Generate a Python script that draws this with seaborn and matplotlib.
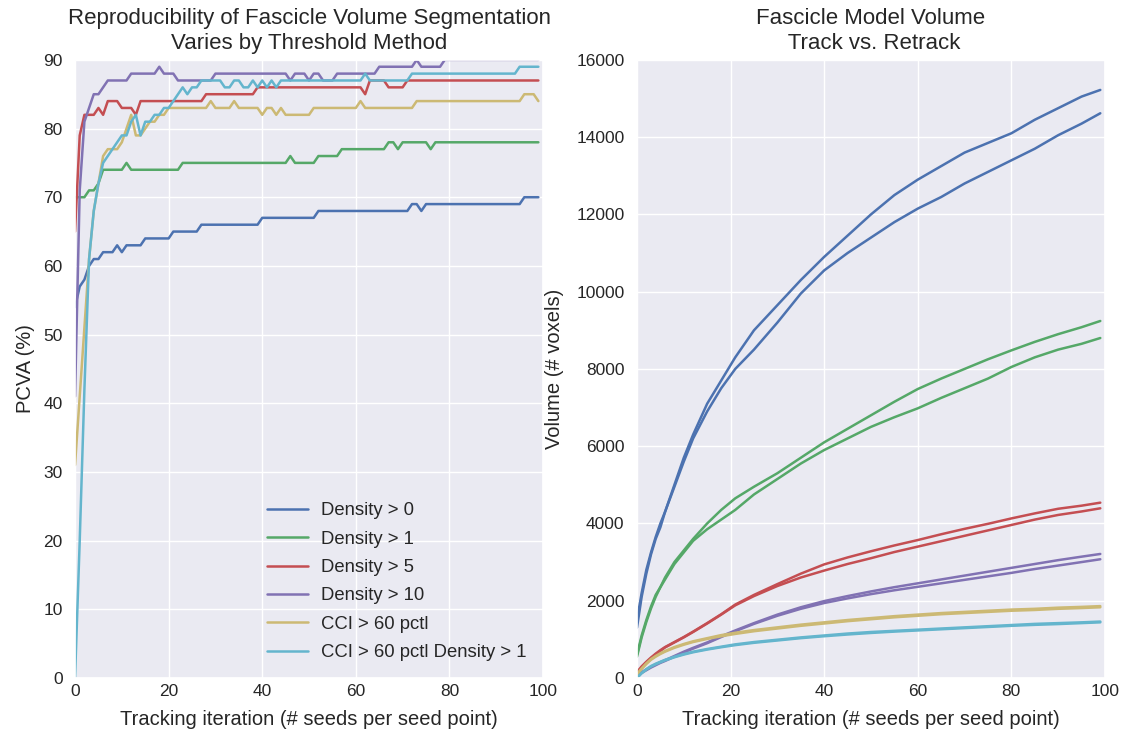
import numpy as np
import pandas as pd
import matplotlib
matplotlib.use("Agg")
import matplotlib.pyplot as plt
import seaborn as sns

# ---------------- Left panel data: PCVA (%) per tracking iteration ----------------
iterations = list(range(100))
methods = ["Density > 0", "Density > 1", "Density > 5", "Density > 10",
           "CCI > 60 pctl", "CCI > 60 pctl Density > 1"]

pcva_density0 = [54,57,58,60,61,61,62,62,62,63, 62,63,63,63,63,64,64,64,64,64,
                 64,65,65,65,65,65,65,66,66,66, 66,66,66,66,66,66,66,66,66,66,
                 67,67,67,67,67,67,67,67,67,67, 67,67,68,68,68,68,68,68,68,68,
                 68,68,68,68,68,68,68,68,68,68, 68,68,69,69,68,69,69,69,69,69,
                 69,69,69,69,69,69,69,69,69,69, 69,69,69,69,69,69,70,70,70,70]
pcva_density1 = [70,70,70,71,71,72,74,74,74,74, 74,75,74,74,74,74,74,74,74,74,
                 74,74,74,75,75,75,75,75,75,75, 75,75,75,75,75,75,75,75,75,75,
                 75,75,75,75,75,75,76,75,75,75, 75,75,76,76,76,76,76,77,77,77,
                 77,77,77,77,77,77,77,78,78,77, 78,78,78,78,78,78,77,78,78,78,
                 78,78,78,78,78,78,78,78,78,78, 78,78,78,78,78,78,78,78,78,78]
pcva_density5 = [65,79,82,82,82,83,82,84,84,84, 83,83,83,82,84,84,84,84,84,84,
                 84,84,84,84,84,84,84,84,85,85, 85,85,85,85,85,85,85,85,85,86,
                 86,86,86,86,86,86,86,86,86,86, 86,86,86,86,86,86,86,86,86,86,
                 86,86,85,87,87,87,87,86,86,86, 86,87,87,87,87,87,87,87,87,87,
                 87,87,87,87,87,87,87,87,87,87, 87,87,87,87,87,87,87,87,87,87]
pcva_density10 = [41,71,81,83,85,85,86,87,87,87, 87,87,88,88,88,88,88,88,89,88,
                  88,88,87,87,87,87,87,87,87,87, 88,88,88,88,88,88,88,88,88,88,
                  88,88,88,88,88,88,87,88,88,88, 87,88,88,87,87,87,88,88,88,88,
                  88,88,88,88,88,89,89,89,89,89, 89,89,89,90,89,89,89,89,89,90,
                  90,90,90,90,90,90,90,90,90,90, 90,90,90,90,90,90,90,90,90,90]
pcva_cci60 = [31,41,51,61,68,72,76,77,77,77, 78,80,82,79,79,80,81,81,82,82,
              83,83,83,83,83,83,83,83,83,84, 83,83,83,83,84,83,83,83,83,83,
              82,83,83,82,83,82,82,82,82,82, 82,83,83,83,83,83,83,83,83,83,
              83,84,83,83,83,83,83,83,83,83, 83,83,83,84,84,84,84,84,84,84,
              84,84,84,84,84,84,84,84,84,84, 84,84,84,84,84,84,85,85,85,84]
pcva_cci60_d1 = [0,20,42,61,68,72,75,76,77,78, 79,79,81,82,79,81,81,82,82,83,
                 83,84,85,86,85,86,86,87,87,87, 87,87,86,86,87,87,86,86,87,86,
                 87,86,87,86,87,87,87,87,87,87, 87,87,87,87,87,87,87,87,87,87,
                 87,87,88,87,87,87,87,87,87,87, 87,87,88,88,88,88,88,88,88,88,
                 88,88,88,88,88,88,88,88,88,88, 88,88,88,88,88,89,89,89,89,89]

# ---------------- Right panel data: volume (# voxels), track vs retrack ----------------
vol_iters = [0,1,2,3,4,5,6,8,10,12,15,18,21,25,30,35,40,45,50,55,60,65,70,75,80,85,90,95,99]

vol_d0_track   = [1300,2100,2700,3200,3600,3900,4300,5000,5700,6300,7100,7700,8300,9000,9650,10300,
                  10900,11450,12000,12500,12900,13250,13600,13850,14100,14450,14750,15050,15222]
vol_d0_retrack = [1500,2200,2800,3250,3650,4000,4300,4950,5600,6200,6900,7500,8000,8500,9200,9950,
                  10550,11000,11400,11800,12150,12450,12800,13100,13400,13700,14050,14350,14618]
vol_d1_track   = [600,1100,1500,1850,2150,2350,2600,3000,3300,3600,4000,4350,4650,4950,5300,5700,
                  6100,6450,6800,7150,7480,7750,8000,8250,8480,8700,8900,9080,9241]
vol_d1_retrack = [550,1050,1450,1800,2100,2350,2550,2950,3250,3550,3850,4100,4350,4750,5150,5550,
                  5900,6200,6500,6750,6980,7250,7500,7750,8050,8300,8500,8650,8800]
vol_d5_track   = [150,300,420,530,630,720,800,930,1060,1200,1420,1650,1900,2150,2430,2700,
                  2940,3120,3280,3430,3570,3720,3860,3990,4130,4260,4380,4460,4538]
vol_d5_retrack = [120,280,400,510,610,700,790,920,1050,1190,1410,1640,1880,2120,2380,2600,
                  2780,2950,3100,3260,3400,3540,3680,3820,3960,4100,4220,4310,4392]
vol_d10_track   = [80,150,220,290,350,410,460,570,680,780,920,1080,1230,1420,1640,1830,
                   1990,2120,2240,2350,2450,2550,2650,2750,2850,2950,3050,3140,3210]
vol_d10_retrack = [60,130,200,270,330,390,440,550,660,760,900,1060,1210,1400,1610,1790,
                   1940,2060,2170,2270,2360,2450,2540,2630,2720,2820,2910,3000,3073]
vol_cci_track   = [100,250,380,490,570,640,700,800,880,950,1030,1110,1170,1240,1310,1380,
                   1440,1500,1550,1600,1640,1680,1710,1740,1770,1790,1820,1840,1860]
vol_cci_retrack = [80,230,360,470,550,620,680,780,860,930,1010,1080,1140,1210,1280,1350,
                   1410,1470,1520,1570,1610,1650,1680,1710,1740,1760,1790,1810,1830]
vol_ccid1_track   = [0,130,230,310,370,420,470,550,620,680,750,810,870,930,990,1050,
                     1100,1150,1190,1220,1250,1280,1310,1340,1370,1400,1420,1440,1460]
vol_ccid1_retrack = [0,120,215,295,355,405,455,535,605,665,735,795,850,910,970,1030,
                     1080,1125,1165,1200,1230,1260,1290,1320,1350,1375,1395,1420,1440]

# ---------------- Build long-form tables ----------------
pcva_series = [pcva_density0, pcva_density1, pcva_density5, pcva_density10, pcva_cci60, pcva_cci60_d1]
left_df = pd.concat([pd.DataFrame({"iteration": iterations, "pcva": s, "method": m})
                     for m, s in zip(methods, pcva_series)], ignore_index=True)

vol_pairs = [(vol_d0_track, vol_d0_retrack), (vol_d1_track, vol_d1_retrack),
             (vol_d5_track, vol_d5_retrack), (vol_d10_track, vol_d10_retrack),
             (vol_cci_track, vol_cci_retrack), (vol_ccid1_track, vol_ccid1_retrack)]
rows = []
for m, (tr, rt) in zip(methods, vol_pairs):
    rows.append(pd.DataFrame({"iteration": vol_iters, "volume": tr, "method": m, "run": m + " track"}))
    rows.append(pd.DataFrame({"iteration": vol_iters, "volume": rt, "method": m, "run": m + " retrack"}))
right_df = pd.concat(rows, ignore_index=True)

# ---------------- Plot ----------------
sns.set_theme(style="darkgrid")
plt.rcParams["font.family"] = ["Liberation Sans", "DejaVu Sans"]
palette = sns.color_palette("deep6")
text_color = "#262626"

fig = plt.figure(figsize=(11.25, 7.42), dpi=100)
ax1 = fig.add_axes([0.0667, 0.0863, 0.416, 0.833])
ax2 = fig.add_axes([0.5662, 0.0863, 0.416, 0.833])

sns.lineplot(data=left_df, x="iteration", y="pcva", hue="method", hue_order=methods,
             palette=palette, linewidth=1.8, ax=ax1)
ax1.set_xlim(0, 100)
ax1.set_ylim(0, 90)
ax1.set_xticks([0, 20, 40, 60, 80, 100])
ax1.set_yticks(range(0, 91, 10))
ax1.set_xlabel("Tracking iteration (# seeds per seed point)", fontsize=14.5, color=text_color, labelpad=8)
ax1.set_ylabel("PCVA (%)", fontsize=14.5, color=text_color, labelpad=6)
ax1.set_title("Reproducibility of Fascicle Volume Segmentation\nVaries by Threshold Method",
              fontsize=16, color=text_color, linespacing=1.25, pad=8)
leg = ax1.legend(loc="lower right", frameon=False, fontsize=13.3, handlelength=2.2,
                 handletextpad=0.7, borderaxespad=0.5, labelspacing=0.62)
for line in leg.get_lines():
    line.set_linewidth(1.8)

sns.lineplot(data=right_df, x="iteration", y="volume", hue="method", hue_order=methods,
             units="run", estimator=None, palette=palette, linewidth=1.8, legend=False, ax=ax2)
ax2.set_xlim(0, 100)
ax2.set_ylim(0, 16000)
ax2.set_xticks([0, 20, 40, 60, 80, 100])
ax2.set_yticks(range(0, 16001, 2000))
ax2.set_xlabel("Tracking iteration (# seeds per seed point)", fontsize=14.5, color=text_color, labelpad=8)
ax2.set_ylabel("Volume (# voxels)", fontsize=14.5, color=text_color, labelpad=9)
ax2.set_title("Fascicle Model Volume\n Track vs. Retrack", fontsize=16, color=text_color,
              linespacing=1.25, pad=8)

for ax in (ax1, ax2):
    ax.tick_params(axis="y", labelsize=12.5, colors=text_color, length=0, pad=9)
    ax.tick_params(axis="x", labelsize=12.5, colors=text_color, length=0, pad=4)

fig.savefig("out.png", dpi=100)
